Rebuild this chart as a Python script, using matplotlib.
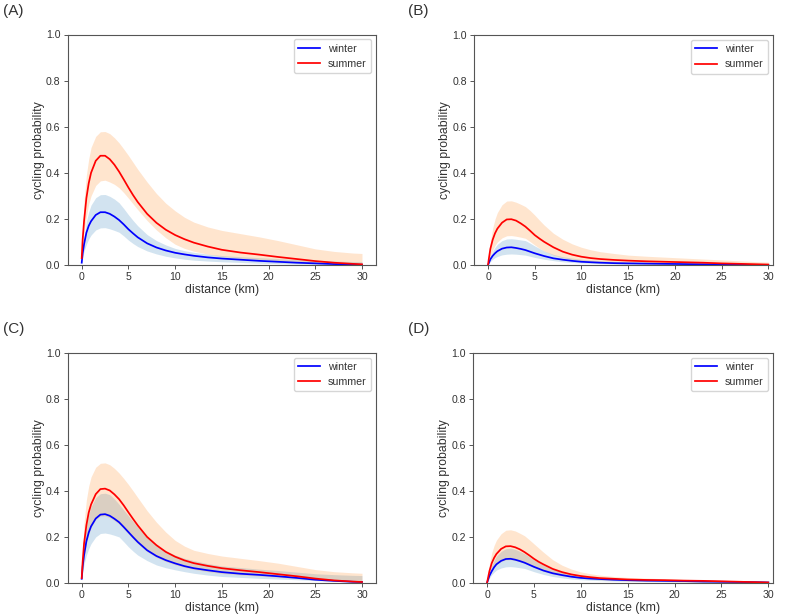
import matplotlib
matplotlib.use("Agg")
import matplotlib.pyplot as plt

plt.rcParams['font.family'] = ['Liberation Sans', 'DejaVu Sans']

distance = [0, 0.1, 0.25, 0.5, 0.75, 1, 1.5, 2, 2.5, 3, 3.5, 4, 4.5, 5, 5.5, 6, 7, 8, 9, 10,
            11, 12, 13.5, 15, 17, 19, 21, 23, 25, 27, 29, 30]

# Panel A
a_summer = [0.03, 0.11, 0.19, 0.29, 0.355, 0.40, 0.452, 0.474, 0.474, 0.459, 0.435, 0.405, 0.371, 0.336, 0.303, 0.273, 0.222, 0.183, 0.153, 0.130,
            0.112, 0.097, 0.080, 0.066, 0.054, 0.045, 0.035, 0.026, 0.017, 0.010, 0.005, 0.003]
a_summer_hi = [0.05, 0.16, 0.28, 0.39, 0.46, 0.51, 0.558, 0.578, 0.579, 0.57, 0.552, 0.53, 0.503, 0.475, 0.445, 0.415, 0.36, 0.31, 0.268, 0.235,
               0.207, 0.186, 0.165, 0.15, 0.136, 0.122, 0.106, 0.088, 0.07, 0.059, 0.052, 0.05]
a_summer_lo = [0.02, 0.07, 0.14, 0.21, 0.265, 0.30, 0.345, 0.365, 0.368, 0.36, 0.35, 0.335, 0.314, 0.29, 0.265, 0.24, 0.193, 0.152, 0.118, 0.09,
               0.072, 0.06, 0.047, 0.037, 0.03, 0.024, 0.019, 0.014, 0.009, 0.005, 0.003, 0.002]
a_winter = [0.01, 0.05, 0.09, 0.14, 0.17, 0.19, 0.217, 0.229, 0.229, 0.222, 0.21, 0.195, 0.176, 0.155, 0.137, 0.12, 0.094, 0.076, 0.063, 0.053,
            0.046, 0.040, 0.033, 0.028, 0.023, 0.018, 0.014, 0.010, 0.007, 0.004, 0.002, 0.001]
a_winter_hi = [0.015, 0.07, 0.12, 0.19, 0.23, 0.26, 0.292, 0.305, 0.306, 0.298, 0.286, 0.27, 0.245, 0.218, 0.193, 0.17, 0.132, 0.106, 0.087, 0.072,
               0.062, 0.055, 0.047, 0.041, 0.036, 0.032, 0.028, 0.024, 0.020, 0.017, 0.015, 0.014]
a_winter_lo = [0.005, 0.03, 0.06, 0.09, 0.113, 0.13, 0.152, 0.161, 0.162, 0.157, 0.15, 0.142, 0.126, 0.108, 0.093, 0.08, 0.061, 0.048, 0.038, 0.031,
               0.025, 0.021, 0.017, 0.014, 0.011, 0.008, 0.006, 0.004, 0.003, 0.002, 0.001, 0.0]

# Panel B
b_summer = [0.0, 0.03, 0.07, 0.11, 0.138, 0.158, 0.184, 0.198, 0.199, 0.193, 0.181, 0.167, 0.149, 0.13, 0.115, 0.101, 0.077, 0.058, 0.045, 0.036,
            0.030, 0.026, 0.022, 0.019, 0.016, 0.014, 0.012, 0.010, 0.007, 0.005, 0.003, 0.002]
b_summer_hi = [0.0, 0.045, 0.10, 0.16, 0.20, 0.228, 0.262, 0.278, 0.279, 0.273, 0.264, 0.254, 0.237, 0.217, 0.195, 0.174, 0.138, 0.112, 0.092, 0.077,
               0.066, 0.058, 0.05, 0.043, 0.038, 0.034, 0.030, 0.026, 0.022, 0.018, 0.014, 0.013]
b_summer_lo = [0.0, 0.018, 0.04, 0.065, 0.085, 0.10, 0.118, 0.127, 0.128, 0.125, 0.121, 0.116, 0.102, 0.087, 0.073, 0.061, 0.043, 0.032, 0.024, 0.019,
               0.015, 0.012, 0.009, 0.007, 0.005, 0.004, 0.003, 0.002, 0.001, 0.0, 0.0, 0.0]
b_winter = [0.0, 0.01, 0.025, 0.04, 0.051, 0.06, 0.071, 0.076, 0.077, 0.074, 0.07, 0.065, 0.058, 0.051, 0.045, 0.039, 0.029, 0.023, 0.018, 0.014,
            0.012, 0.010, 0.008, 0.007, 0.006, 0.005, 0.004, 0.003, 0.002, 0.001, 0.0, 0.0]
b_winter_hi = [0.0, 0.016, 0.04, 0.06, 0.077, 0.09, 0.106, 0.113, 0.114, 0.112, 0.109, 0.106, 0.095, 0.083, 0.072, 0.061, 0.046, 0.036, 0.03, 0.025,
               0.021, 0.019, 0.016, 0.014, 0.012, 0.011, 0.010, 0.009, 0.008, 0.007, 0.006, 0.006]
b_winter_lo = [0.0, 0.006, 0.015, 0.025, 0.032, 0.037, 0.044, 0.047, 0.048, 0.047, 0.045, 0.043, 0.038, 0.033, 0.029, 0.025, 0.019, 0.014, 0.011, 0.009,
               0.007, 0.006, 0.004, 0.003, 0.002, 0.002, 0.001, 0.001, 0.0, 0.0, 0.0, 0.0]

# Panel C
c_summer = [0.02, 0.09, 0.17, 0.25, 0.305, 0.34, 0.385, 0.407, 0.409, 0.401, 0.384, 0.363, 0.336, 0.306, 0.277, 0.249, 0.199, 0.163, 0.134, 0.113,
            0.097, 0.085, 0.073, 0.063, 0.054, 0.046, 0.037, 0.028, 0.018, 0.010, 0.005, 0.003]
c_summer_hi = [0.04, 0.14, 0.26, 0.36, 0.42, 0.46, 0.502, 0.519, 0.521, 0.513, 0.497, 0.477, 0.453, 0.427, 0.399, 0.37, 0.313, 0.263, 0.22, 0.184,
               0.159, 0.141, 0.127, 0.116, 0.106, 0.096, 0.085, 0.071, 0.057, 0.048, 0.043, 0.041]
c_summer_lo = [0.01, 0.05, 0.11, 0.17, 0.21, 0.24, 0.275, 0.289, 0.29, 0.283, 0.27, 0.255, 0.234, 0.212, 0.19, 0.17, 0.135, 0.11, 0.092, 0.078,
               0.067, 0.058, 0.048, 0.040, 0.034, 0.029, 0.024, 0.018, 0.011, 0.006, 0.003, 0.002]
c_winter = [0.017, 0.07, 0.12, 0.18, 0.218, 0.245, 0.279, 0.296, 0.298, 0.291, 0.278, 0.263, 0.242, 0.22, 0.198, 0.177, 0.141, 0.116, 0.098, 0.084,
            0.072, 0.063, 0.054, 0.046, 0.039, 0.034, 0.028, 0.021, 0.013, 0.008, 0.004, 0.003]
c_winter_hi = [0.02, 0.10, 0.17, 0.25, 0.295, 0.33, 0.37, 0.387, 0.389, 0.383, 0.364, 0.341, 0.316, 0.291, 0.266, 0.241, 0.199, 0.163, 0.138, 0.12,
               0.106, 0.096, 0.083, 0.073, 0.066, 0.059, 0.053, 0.046, 0.039, 0.035, 0.032, 0.031]
c_winter_lo = [0.01, 0.045, 0.08, 0.12, 0.148, 0.17, 0.199, 0.214, 0.216, 0.212, 0.206, 0.199, 0.178, 0.156, 0.137, 0.12, 0.096, 0.077, 0.065, 0.056,
               0.048, 0.041, 0.033, 0.027, 0.023, 0.019, 0.016, 0.013, 0.009, 0.006, 0.004, 0.003]

# Panel D
d_summer = [0.0, 0.02, 0.05, 0.085, 0.108, 0.125, 0.147, 0.158, 0.159, 0.154, 0.145, 0.133, 0.119, 0.104, 0.091, 0.08, 0.06, 0.046, 0.036, 0.029,
            0.024, 0.02, 0.017, 0.014, 0.012, 0.011, 0.009, 0.008, 0.006, 0.004, 0.002, 0.001]
d_summer_hi = [0.0, 0.035, 0.08, 0.13, 0.162, 0.185, 0.213, 0.228, 0.23, 0.225, 0.215, 0.204, 0.187, 0.169, 0.151, 0.133, 0.1, 0.076, 0.059, 0.047,
               0.039, 0.033, 0.027, 0.023, 0.02, 0.017, 0.015, 0.013, 0.01, 0.008, 0.006, 0.006]
d_summer_lo = [0.0, 0.012, 0.03, 0.05, 0.067, 0.08, 0.093, 0.099, 0.1, 0.097, 0.091, 0.085, 0.076, 0.066, 0.058, 0.05, 0.038, 0.03, 0.024, 0.019,
               0.016, 0.013, 0.01, 0.008, 0.006, 0.005, 0.004, 0.003, 0.002, 0.001, 0.0, 0.0]
d_winter = [0.0, 0.012, 0.03, 0.05, 0.067, 0.08, 0.095, 0.103, 0.104, 0.1, 0.094, 0.087, 0.078, 0.069, 0.061, 0.053, 0.041, 0.033, 0.026, 0.021,
            0.018, 0.016, 0.013, 0.011, 0.009, 0.008, 0.007, 0.005, 0.004, 0.003, 0.002, 0.001]
d_winter_hi = [0.0, 0.018, 0.045, 0.075, 0.097, 0.115, 0.136, 0.148, 0.15, 0.145, 0.136, 0.126, 0.113, 0.1, 0.088, 0.077, 0.059, 0.047, 0.037, 0.03,
               0.025, 0.022, 0.019, 0.016, 0.014, 0.012, 0.011, 0.009, 0.008, 0.007, 0.006, 0.005]
d_winter_lo = [0.0, 0.008, 0.02, 0.035, 0.046, 0.055, 0.064, 0.069, 0.07, 0.068, 0.065, 0.062, 0.055, 0.048, 0.042, 0.036, 0.027, 0.021, 0.016, 0.013,
               0.011, 0.009, 0.007, 0.006, 0.005, 0.004, 0.003, 0.002, 0.001, 0.0, 0.0, 0.0]

panel_labels = ["(A)", "(B)", "(C)", "(D)"]
x_ticks = [0, 5, 10, 15, 20, 25, 30]
y_ticks = [0.0, 0.2, 0.4, 0.6, 0.8, 1.0]

panels = [
    (a_winter, a_winter_lo, a_winter_hi, a_summer, a_summer_lo, a_summer_hi),
    (b_winter, b_winter_lo, b_winter_hi, b_summer, b_summer_lo, b_summer_hi),
    (c_winter, c_winter_lo, c_winter_hi, c_summer, c_summer_lo, c_summer_hi),
    (d_winter, d_winter_lo, d_winter_hi, d_summer, d_summer_lo, d_summer_hi),
]

W, H = 786, 616
# axes boxes in pixels: left, top, right, bottom
boxes = [
    (67.7, 34.5, 376, 265),
    (474, 35, 773, 265),
    (67.7, 352.7, 376, 582.7),
    (473, 352.7, 773, 582.7),
]
xlims = [(-1.5, 31.5), (-1.5, 30.5), (-1.5, 31.5), (-1.5, 30.5)]
label_pos = [(3, 11.5), (408, 11.5), (3, 329), (408, 329)]

fig = plt.figure(figsize=(W / 100, H / 100), dpi=100)
text_c = '#333333'
spine_c = '#555555'

for i, (w, wlo, whi, s, slo, shi) in enumerate(panels):
    l, t, r, b = boxes[i]
    ax = fig.add_axes([l / W, 1 - b / H, (r - l) / W, (b - t) / H])
    ax.fill_between(distance, wlo, whi, color='tab:blue', alpha=0.2, linewidth=0)
    ax.fill_between(distance, slo, shi, color='tab:orange', alpha=0.2, linewidth=0)
    ax.plot(distance, w, color='blue', lw=1.25, label='winter')
    ax.plot(distance, s, color='red', lw=1.25, label='summer')
    ax.set_xlim(*xlims[i])
    ax.set_ylim(0, 1.0)
    ax.set_xticks(x_ticks)
    ax.set_yticks(y_ticks)
    ax.set_yticklabels([f"{v:.1f}" for v in y_ticks])
    ax.tick_params(labelsize=7.6, length=2.8, width=0.7, colors=spine_c, labelcolor=text_c, pad=2.5)
    for sp in ax.spines.values():
        sp.set_color(spine_c)
        sp.set_linewidth(0.8)
    ax.set_xlabel("distance (km)", fontsize=8.8, color=text_c, labelpad=1.5)
    ax.set_ylabel("cycling probability", fontsize=8.8, color=text_c, labelpad=0.5)
    leg = ax.legend(loc='upper right', fontsize=7.7, frameon=True, borderaxespad=0.45,
                    handlelength=2.0)
    for txt in leg.get_texts():
        txt.set_color(text_c)
    lx, ly = label_pos[i]
    fig.text(lx / W, 1 - ly / H, panel_labels[i], fontsize=11, color=text_c,
             ha='left', va='center')

fig.savefig("out.png", dpi=100)
